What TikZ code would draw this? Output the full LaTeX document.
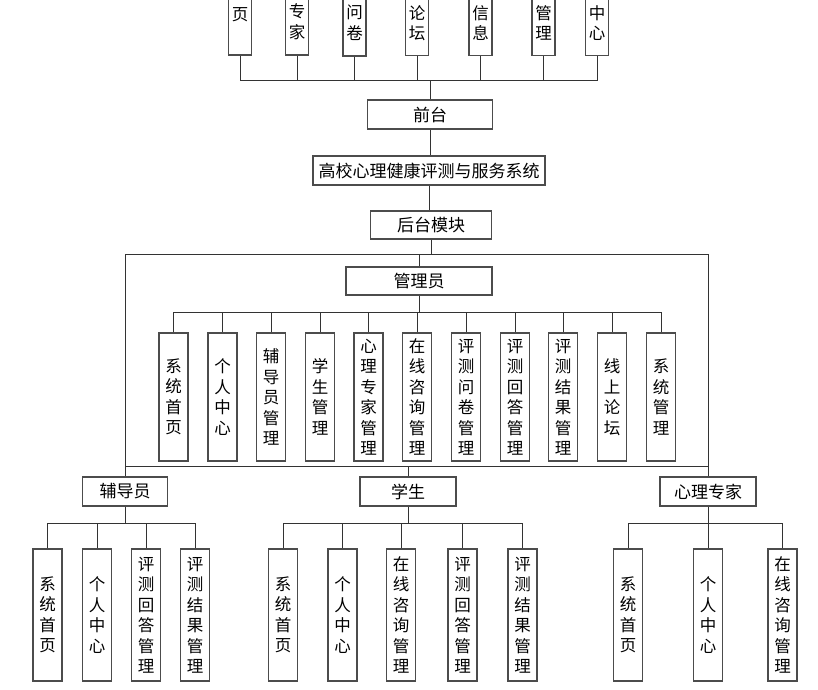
\documentclass[tikz,border=0pt]{standalone}
\usepackage{fontspec}
\setmainfont{Noto Sans CJK SC}
\begin{document}
\begin{tikzpicture}[x=1pt,y=-1pt,
  conn/.style={draw=black!80,line width=1pt},
  hbox/.style={draw=black!70,line width=1.2pt,fill=white,inner sep=0pt,minimum height=29,font=\fontsize{17}{19}\selectfont},
  vbox/.style={draw=black!70,line width=1.2pt,fill=white,inner sep=0pt,minimum width=29,align=center,font=\fontsize{16.5}{20.5}\selectfont},
  tbox/.style={draw=black!70,line width=1.2pt,fill=white,inner sep=0pt,minimum width=23,align=center,font=\fontsize{16.5}{20.5}\selectfont}]
\useasboundingbox[fill=white] (0,0) rectangle (818,689);

% ---- top row (cropped) ----
\node[tbox,minimum height=80] (t1) at (240,15) {页};
\node[tbox,minimum height=67] (t2) at (297,21.5) {专\\家};
\node[tbox,minimum height=67] (t3) at (354.5,22.5) {问\\卷};
\node[tbox,minimum height=65] (t4) at (417,23) {论\\坛};
\node[tbox,minimum height=65] (t5) at (480.5,23) {信\\息};
\node[tbox,minimum height=65] (t6) at (543.5,23) {管\\理};
\node[tbox,minimum height=65] (t7) at (597,23) {中\\心};

\node[hbox,minimum width=125] (qt) at (430,114.5) {前台};
\node[hbox,minimum width=232] (sys) at (429,170.5) {高校心理健康评测与服务系统};
\node[hbox,minimum width=121,minimum height=28] (ht) at (431,225) {后台模块};
\node[hbox,minimum width=146,minimum height=28] (gly) at (419,281) {管理员};

% admin children
\node[vbox,minimum height=128] (a1) at (173.5,397) {系\\统\\首\\页};
\node[vbox,minimum height=128] (a2) at (222.5,397) {个\\人\\中\\心};
\node[vbox,minimum height=128] (a3) at (271,397) {辅\\导\\员\\管\\理};
\node[vbox,minimum height=128] (a4) at (320,397) {学\\生\\管\\理};
\node[vbox,minimum height=128] (a5) at (368.5,397) {心\\理\\专\\家\\管\\理};
\node[vbox,minimum height=128] (a6) at (417,397) {在\\线\\咨\\询\\管\\理};
\node[vbox,minimum height=128] (a7) at (466,397) {评\\测\\问\\卷\\管\\理};
\node[vbox,minimum height=128] (a8) at (515,397) {评\\测\\回\\答\\管\\理};
\node[vbox,minimum height=128] (a9) at (563,397) {评\\测\\结\\果\\管\\理};
\node[vbox,minimum height=128] (a10) at (612,397) {线\\上\\论\\坛};
\node[vbox,minimum height=128] (a11) at (661,397) {系\\统\\管\\理};

% role boxes
\node[hbox,minimum width=85] (fdy) at (125,491.5) {辅导员};
\node[hbox,minimum width=96] (xs) at (408,491.5) {学生};
\node[hbox,minimum width=96] (zj) at (708,491.5) {心理专家};

% 辅导员 children
\node[vbox,minimum height=132] (b1) at (47.5,615) {系\\统\\首\\页};
\node[vbox,minimum height=132] (b2) at (97,615) {个\\人\\中\\心};
\node[vbox,minimum height=132] (b3) at (146,615) {评\\测\\回\\答\\管\\理};
\node[vbox,minimum height=132] (b4) at (195,615) {评\\测\\结\\果\\管\\理};
% 学生 children
\node[vbox,minimum height=132] (c1) at (283,615) {系\\统\\首\\页};
\node[vbox,minimum height=132] (c2) at (342.5,615) {个\\人\\中\\心};
\node[vbox,minimum height=132] (c3) at (401,615) {在\\线\\咨\\询\\管\\理};
\node[vbox,minimum height=132] (c4) at (462.5,615) {评\\测\\回\\答\\管\\理};
\node[vbox,minimum height=132] (c5) at (522.5,615) {评\\测\\结\\果\\管\\理};
% 心理专家 children
\node[vbox,minimum height=132] (d1) at (628,615) {系\\统\\首\\页};
\node[vbox,minimum height=132] (d2) at (708,615) {个\\人\\中\\心};
\node[vbox,minimum height=132] (d3) at (782.5,615) {在\\线\\咨\\询\\管\\理};

% ---- connectors ----
\coordinate (tbus) at (430,80);
\foreach \n in {t1,t2,t3,t4,t5,t6,t7} \draw[conn] (\n.south) |- (tbus);
\draw[conn] (tbus) -- (qt.north);
\draw[conn] (qt.south) -- (qt.south |- sys.north);
\draw[conn] (sys.south) -- (sys.south |- ht.north);

\coordinate (fl) at (125,254);
\coordinate (fr) at (708,254);
\coordinate (ml) at (125,466);
\coordinate (mr) at (708,466);
\draw[conn] (fl) -- (fr);
\draw[conn] (ht.south) -- (ht.south |- fl);
\draw[conn] (gly.north) -- (gly.north |- fl);
\draw[conn] (fl) -- (fdy.north);
\draw[conn] (fr) -- (zj.north);
\draw[conn] (ml) -- (mr);
\draw[conn] (xs.north) -- (xs.north |- ml);

\coordinate (abus) at (419,312);
\draw[conn] (gly.south) -- (abus);
\foreach \n in {a1,a2,a3,a4,a5,a6,a7,a8,a9,a10,a11} \draw[conn] (\n.north) |- (abus);

\coordinate (bbus) at (125,523);
\draw[conn] (fdy.south) -- (bbus);
\foreach \n in {b1,b2,b3,b4} \draw[conn] (\n.north) |- (bbus);

\coordinate (cbus) at (408,523);
\draw[conn] (xs.south) -- (cbus);
\foreach \n in {c1,c2,c3,c4,c5} \draw[conn] (\n.north) |- (cbus);

\coordinate (dbus) at (708,523);
\draw[conn] (zj.south) -- (dbus);
\foreach \n in {d1,d2,d3} \draw[conn] (\n.north) |- (dbus);
\end{tikzpicture}
\end{document}
